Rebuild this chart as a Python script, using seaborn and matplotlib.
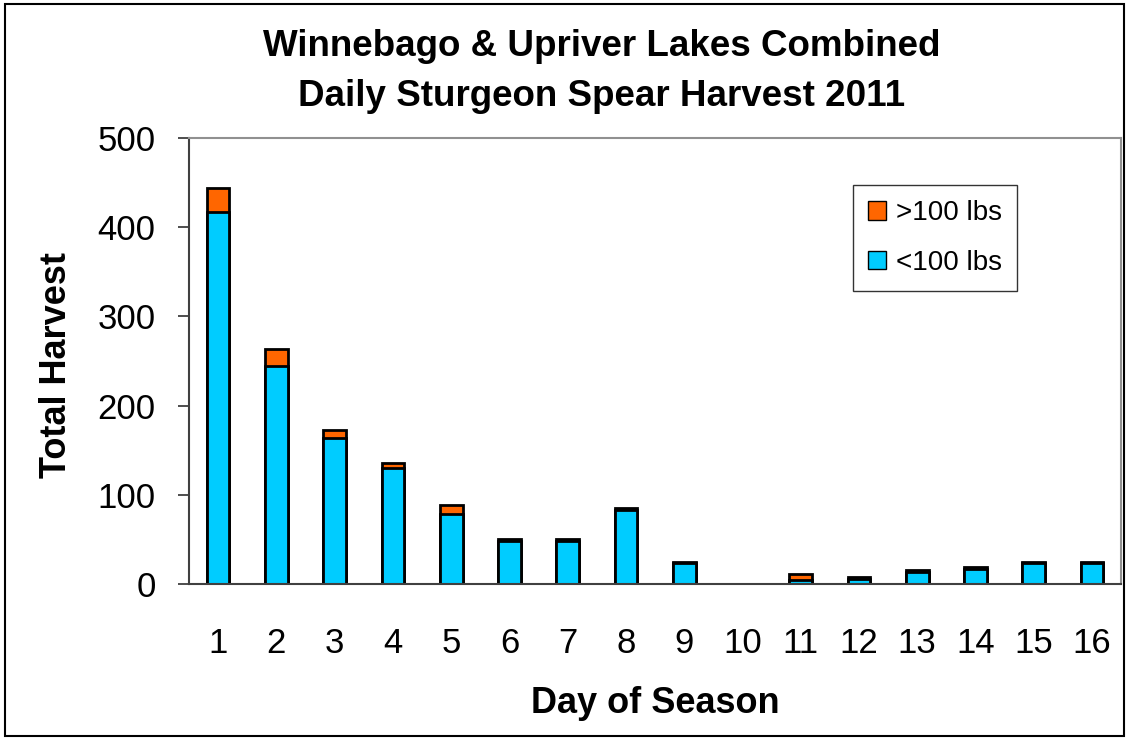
import numpy as np
import pandas as pd
import matplotlib
matplotlib.use("Agg")
import matplotlib.pyplot as plt
from matplotlib.patches import Patch, Rectangle
import seaborn as sns

sns.set_style("white")
plt.rcParams['font.family'] = ['Liberation Sans', 'DejaVu Sans']
plt.rcParams['text.color'] = 'black'
plt.rcParams['axes.labelcolor'] = 'black'
plt.rcParams['xtick.color'] = 'black'
plt.rcParams['ytick.color'] = 'black'

# Data
days = [str(d) for d in range(1, 17)]
under_100 = [417, 244, 164, 130, 79, 48, 48, 83, 23, 0, 5, 6, 14, 17, 23, 23]
over_100 = [27, 20, 9, 6, 10, 2, 2, 2, 2, 0, 6, 2, 2, 2, 2, 2]

df = pd.DataFrame({"Day": days, "under": under_100, "over": over_100})
df["total"] = df["under"] + df["over"]

orange = "#FF6600"
blue = "#00CCFF"

fig = plt.figure(figsize=(11.29, 7.4), dpi=100)
ax = fig.add_axes([0.1674, 0.2108, 0.8256, 0.6027])

# stacked bars: total first (orange), then the lower part (blue)
sns.barplot(data=df, x="Day", y="total", color=orange, width=0.39,
            edgecolor="black", linewidth=2, saturation=1, ax=ax)
sns.barplot(data=df, x="Day", y="under", color=blue, width=0.39,
            edgecolor="black", linewidth=2, saturation=1, ax=ax)

ax.set_xlim(-0.5, 15.5)
ax.set_ylim(0, 500)
ax.set_yticks([0, 100, 200, 300, 400, 500])

ax.tick_params(axis="x", which="major", length=0, pad=31, labelsize=25)
ax.set_xticks(np.arange(-0.5, 16, 1), minor=True)
ax.tick_params(axis="x", which="minor", length=9, width=1.2,
               direction="out", color="#303030")
ax.tick_params(axis="y", length=8, width=1.2, direction="out",
               color="#303030", pad=16, labelsize=25, left=True)

for side in ["left", "bottom"]:
    ax.spines[side].set_color("#404040")
    ax.spines[side].set_linewidth(1.5)
for side in ["top", "right"]:
    ax.spines[side].set_color("#909090")
    ax.spines[side].set_linewidth(1.5)

ax.set_xlabel("Day of Season", fontsize=26, fontweight="bold", va="center")
ax.set_ylabel("Total Harvest", fontsize=26, fontweight="bold", va="center")
ax.xaxis.set_label_coords(0.5, -0.267)
ax.yaxis.set_label_coords(-0.142, 0.49)

fig.text(0.533, 0.903, "Winnebago & Upriver Lakes Combined\nDaily Sturgeon Spear Harvest 2011",
         ha="center", va="center", fontsize=26.5, fontweight="bold",
         linespacing=1.55)

handles = [Patch(facecolor=orange, edgecolor="black", label=">100 lbs"),
           Patch(facecolor=blue, edgecolor="black", label="<100 lbs")]
leg = ax.legend(handles=handles, loc="upper left",
                bbox_to_anchor=(0.712, 0.895), fontsize=20, frameon=True,
                fancybox=False, edgecolor="black", handlelength=0.65,
                handleheight=0.65, handletextpad=0.35, labelspacing=0.85,
                borderpad=0.55, borderaxespad=0)
leg.get_frame().set_linewidth(1.0)

# outer chart border
fig.patches.append(Rectangle((0.004, 0.006), 0.992, 0.989, transform=fig.transFigure,
                             fill=False, edgecolor="black", linewidth=1.5))

fig.savefig("out.png", dpi=100)
